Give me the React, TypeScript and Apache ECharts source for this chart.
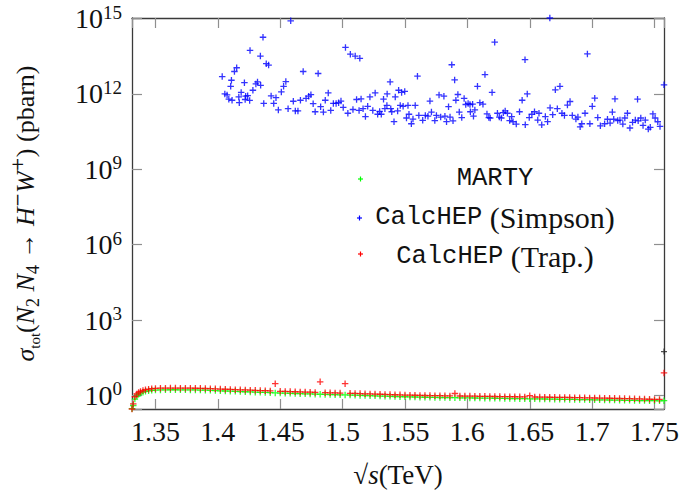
import React, { useEffect, useRef } from 'react';
import * as echarts from 'echarts';

// sqrt(s) in TeV, shared by the MARTY and CalcHEP (Trap.) scans
const energies = [
  1.3312, 1.3322, 1.3335, 1.3350, 1.3365, 1.3380, 1.3400, 1.3420, 1.3445, 1.3470, 1.3500,
  1.354, 1.358, 1.362, 1.366, 1.370, 1.374, 1.378, 1.382, 1.386, 1.390,
  1.394, 1.398, 1.402, 1.406, 1.410, 1.414, 1.418, 1.422, 1.426, 1.430,
  1.434, 1.438, 1.442, 1.446, 1.450, 1.454, 1.458, 1.462, 1.466, 1.470,
  1.474, 1.478, 1.482, 1.486, 1.490, 1.494, 1.498, 1.502, 1.506, 1.510,
  1.514, 1.518, 1.522, 1.526, 1.530, 1.534, 1.538, 1.542, 1.546, 1.550,
  1.554, 1.558, 1.562, 1.566, 1.570, 1.574, 1.578, 1.582, 1.586, 1.590,
  1.594, 1.598, 1.602, 1.606, 1.610, 1.614, 1.618, 1.622, 1.626, 1.630,
  1.634, 1.638, 1.642, 1.646, 1.650, 1.654, 1.658, 1.662, 1.666, 1.670,
  1.674, 1.678, 1.682, 1.686, 1.690, 1.694, 1.698, 1.702, 1.706, 1.710,
  1.714, 1.718, 1.722, 1.726, 1.730, 1.734, 1.738, 1.742, 1.746, 1.750,
  1.754, 1.7576,
];

// CalcHEP (Trap.) cross section, pbarn
const trapSigma = [
  0.29, 0.46, 0.89, 1.15, 1.32, 1.45, 1.58, 1.70, 1.78, 1.86, 1.91,
  1.95, 1.96, 1.97, 1.97, 1.96, 1.96, 1.95, 1.94, 1.92, 1.90,
  1.87, 1.84, 1.80, 1.77, 1.74, 1.71, 1.68, 1.66, 1.63, 1.60,
  1.57, 1.55, 1.52, 2.95, 1.47, 1.45, 1.43, 1.41, 1.39, 1.37,
  1.35, 1.33, 3.5, 1.30, 1.28, 1.27, 1.25, 2.95, 1.22, 1.21,
  1.19, 1.17, 1.15, 1.14, 1.12, 1.10, 1.09, 1.07, 1.06, 1.04,
  1.03, 1.02, 1.01, 1.00, 0.99, 0.985, 0.98, 0.97, 0.965, 1.2,
  0.955, 0.95, 0.945, 0.94, 0.93, 0.925, 0.92, 0.91, 0.905, 0.90,
  0.895, 0.89, 0.885, 0.88, 0.98, 0.87, 0.865, 0.86, 0.85, 0.845,
  0.84, 0.835, 0.83, 0.82, 0.815, 0.81, 0.80, 0.795, 0.79, 0.78,
  0.775, 0.77, 0.76, 0.755, 0.745, 0.74, 0.73, 0.72, 0.71, 0.70,
  0.695, 7.9,
];

// MARTY cross section, pbarn
const martySigma = [
  0.30, 0.40, 0.72, 0.95, 1.12, 1.24, 1.36, 1.46, 1.53, 1.60, 1.64,
  1.67, 1.68, 1.69, 1.69, 1.68, 1.68, 1.67, 1.66, 1.64, 1.62,
  1.60, 1.57, 1.54, 1.51, 1.48, 1.46, 1.43, 1.41, 1.39, 1.36,
  1.34, 1.32, 1.30, 1.27, 1.25, 1.24, 1.22, 1.20, 1.18, 1.17,
  1.15, 1.13, 1.12, 1.10, 1.09, 1.08, 1.06, 1.05, 1.04, 1.03,
  1.01, 1.00, 0.98, 0.97, 0.95, 0.94, 0.93, 0.91, 0.90, 0.89,
  0.88, 0.87, 0.86, 0.85, 0.845, 0.84, 0.83, 0.825, 0.82, 0.815,
  0.81, 0.805, 0.80, 0.795, 0.79, 0.785, 0.78, 0.775, 0.77, 0.765,
  0.76, 0.755, 0.75, 0.745, 0.74, 0.735, 0.73, 0.725, 0.72, 0.715,
  0.71, 0.705, 0.70, 0.695, 0.69, 0.685, 0.68, 0.675, 0.67, 0.665,
  0.66, 0.655, 0.65, 0.645, 0.64, 0.635, 0.63, 0.625, 0.62, 0.62,
  0.615, 0.62,
];

// CalcHEP (Simpson): [sqrt(s) TeV, sigma pbarn]
const simpsonPoints: [number, number][] = [
  [1.4035, 4.9e12], [1.4056, 1.0e12], [1.4074, 9.1e11], [1.4088, 6.2e11], [1.4103, 2.0e12],
  [1.4109, 3.5e12], [1.4114, 5.6e11], [1.4133, 7.8e12], [1.4151, 1.1e13], [1.4168, 7.6e11],
  [1.4172, 4.5e11], [1.4187, 1.15e12], [1.4213, 2.8e12], [1.4219, 6.0e11], [1.4223, 8.1e11],
  [1.4239, 8.5e11], [1.4255, 5.5e11], [1.4258, 5.4e13], [1.4281, 1.4e12], [1.4305, 2.5e12],
  [1.4318, 3.0e12], [1.4341, 3.2e13], [1.4343, 2.2e12], [1.4362, 1.8e14], [1.4368, 4.2e11],
  [1.4388, 1.6e13], [1.4407, 1.4e13], [1.4427, 8.3e11], [1.4448, 4.2e11], [1.4466, 7.1e11],
  [1.4485, 2.3e11], [1.4509, 1.2e12], [1.4527, 2.0e12], [1.4545, 3.1e12], [1.4563, 2.6e11],
  [1.4584, 8.1e14], [1.4605, 5.1e11], [1.4621, 2.1e11], [1.4642, 2.1e11], [1.4662, 5.6e11],
  [1.4684, 7.8e12], [1.4707, 6.6e11], [1.4728, 8.1e11], [1.4746, 9.3e11], [1.4764, 4.1e11],
  [1.4780, 1.95e11], [1.4804, 6.5e12], [1.4824, 3.1e11], [1.4846, 1.9e11], [1.4861, 5.6e11],
  [1.4885, 1.1e12], [1.4905, 2.2e11], [1.4926, 4.2e11], [1.4948, 4.2e11], [1.4968, 4.5e11],
  [1.4987, 5.2e11], [1.5005, 2.9e11], [1.5023, 7.1e13], [1.5042, 1.7e11], [1.5062, 3.8e13],
  [1.5083, 2.4e11], [1.5101, 3.2e13], [1.5112, 6.0e11], [1.5132, 2.2e11], [1.5138, 2.6e13],
  [1.5148, 6.3e11], [1.5164, 2.6e11], [1.5183, 1.26e11], [1.5201, 3.2e11], [1.5219, 7.6e11],
  [1.5242, 2.2e11], [1.5261, 1.1e12], [1.5281, 1.55e11], [1.5297, 2.0e11], [1.5310, 1.55e11],
  [1.5328, 6.2e11], [1.5339, 2.6e11], [1.5355, 3.5e11], [1.5357, 1.0e12], [1.5381, 3.0e12],
  [1.5386, 2.6e11], [1.5394, 1.95e11], [1.5412, 7.9e10], [1.5422, 7.6e11], [1.5441, 2.1e11],
  [1.5449, 1.4e12], [1.5462, 3.5e11], [1.5473, 1.15e12], [1.5485, 3.2e11], [1.5498, 1.26e12],
  [1.5512, 1.1e11], [1.5524, 3.5e11], [1.5532, 1.55e11], [1.5551, 6.5e10], [1.5564, 1.0e11],
  [1.5582, 3.5e11], [1.5600, 5.1e12], [1.5611, 1.4e11], [1.5642, 8.9e10], [1.5663, 1.4e11],
  [1.5684, 1.3e11], [1.5700, 5.2e11], [1.5712, 1.9e11], [1.5739, 8.7e10], [1.5752, 1.4e11],
  [1.5773, 9.1e11], [1.5786, 1.2e11], [1.5812, 8.1e11], [1.5820, 1.3e11], [1.5833, 7.9e10],
  [1.5849, 3.1e11], [1.5861, 1.2e11], [1.5875, 1.45e13], [1.5885, 8.5e10], [1.5898, 3.6e12],
  [1.5908, 5.6e11], [1.5924, 9.5e11], [1.5935, 1.9e11], [1.5955, 1.15e11], [1.5974, 6.6e11],
  [1.5987, 3.8e11], [1.6006, 4.2e11], [1.6021, 3.8e11], [1.6024, 1.95e11], [1.6042, 3.9e11],
  [1.6049, 1.3e11], [1.6060, 2.3e11], [1.6081, 2.0e12], [1.6100, 4.5e11], [1.6125, 3.9e11],
  [1.6141, 5.9e12], [1.6157, 1.6e11], [1.6172, 1.15e11], [1.6183, 1.1e11], [1.6198, 1.15e12],
  [1.6219, 1.15e14], [1.6241, 1.7e11], [1.6256, 1.2e11], [1.6272, 1.1e11], [1.6288, 1.8e11],
  [1.6303, 2.1e11], [1.6321, 1.7e11], [1.6339, 8.7e10], [1.6355, 1.26e11], [1.6366, 7.8e10],
  [1.6392, 6.3e10], [1.6418, 1.95e11], [1.6439, 5.6e11], [1.6462, 2.3e13], [1.6464, 6.0e10],
  [1.6480, 1.0e12], [1.6496, 1.15e11], [1.6517, 1.55e11], [1.6538, 1.95e11], [1.6564, 9.1e10],
  [1.6574, 1.7e11], [1.6596, 5.9e10], [1.6625, 1.26e11], [1.6643, 7.9e10], [1.6661, 1.05e15],
  [1.6663, 2.8e11], [1.6684, 1.5e11], [1.6705, 1.45e12], [1.6721, 2.6e11], [1.6742, 2.0e12],
  [1.6758, 1.7e11], [1.6778, 1.4e11], [1.6802, 3.6e11], [1.6823, 5.0e11], [1.6841, 1.4e11],
  [1.6870, 1.0e11], [1.6886, 1.2e11], [1.6904, 4.9e10], [1.6917, 6.5e10], [1.6943, 1.7e11],
  [1.6962, 3.9e13], [1.6982, 6.5e10], [1.7001, 3.2e11], [1.7021, 6.8e11], [1.7045, 1.15e11],
  [1.7066, 5.4e10], [1.7100, 6.5e10], [1.7123, 9.8e10], [1.7144, 6.9e10], [1.7162, 1.9e11],
  [1.7173, 9.8e10], [1.7183, 6.3e11], [1.7205, 8.7e10], [1.7223, 9.1e10], [1.7246, 6.3e10],
  [1.7262, 1.1e11], [1.7283, 1.7e11], [1.7303, 4.4e10], [1.7324, 7.4e10], [1.7346, 9.1e10],
  [1.7364, 6.2e11], [1.7369, 8.5e10], [1.7390, 1.1e11], [1.7408, 5.6e10], [1.7426, 9.1e10],
  [1.7450, 4.0e10], [1.7466, 4.7e10], [1.7487, 1.6e11], [1.7505, 1.1e11], [1.7526, 7.8e10],
  [1.7544, 5.1e10], [1.7576, 2.3e12],
];

// lone dark point at the right edge
const extraEnergy = [1.7576];
const extraSigma = [56];

const xTickStep = 0.05;
const yDecadeStep = 3;

const PLUS = 'path://M28,0h14v28h28v14h-28v28h-14v-28h-28v-14h28z';
const serif = '"Liberation Serif", "DejaVu Serif", serif';
const mono = '"Liberation Mono", "DejaVu Sans Mono", monospace';
const ink = '#111';

export default function App() {
  const ref = useRef<HTMLDivElement>(null);

  useEffect(() => {
    const chart = echarts.init(ref.current!, null, { renderer: 'svg' });
    const lg = (v: number) => Math.log10(v);

    const allX = [...energies, ...simpsonPoints.map((p) => p[0]), ...extraEnergy];
    const allY = [...trapSigma, ...martySigma, ...simpsonPoints.map((p) => p[1]), ...extraSigma].map(lg);
    const xMin = Math.min(...allX);
    const xMax = Math.max(...allX);
    const yMin = Math.min(...allY);
    const yMax = Math.max(...allY);

    const isMult = (v: number, s: number) => Math.abs(v / s - Math.round(v / s)) < 1e-6;

    const axisLine = { show: true, onZero: false, lineStyle: { color: '#3a3a3a', width: 1.3 } };
    const axisTick = { show: true, inside: true, length: 10, lineStyle: { color: '#8f8f8f', width: 1.2 } };

    const plusRects = (cx: number, cy: number, color: string) => [
      { type: 'rect', shape: { x: cx - 2.5, y: cy - 0.6, width: 5, height: 1.2 }, style: { fill: color }, silent: true },
      { type: 'rect', shape: { x: cx - 0.6, y: cy - 2.5, width: 1.2, height: 5 }, style: { fill: color }, silent: true },
    ];

    const legendText = (y: number, text: string) => ({
      type: 'text',
      x: 495,
      y,
      silent: true,
      style: {
        text,
        align: 'center',
        verticalAlign: 'middle',
        textAlign: 'center',
        textVerticalAlign: 'middle',
        fill: ink,
        rich: {
          t: { fontFamily: mono, fontSize: 25.5, fill: ink },
          r: { fontFamily: serif, fontSize: 30, fill: ink },
        },
      },
    });

    const option: any = {
      animation: false,
      grid: { left: 121, right: 20, top: 18, bottom: 78, containLabel: false },
      xAxis: [
        {
          type: 'value',
          min: xMin,
          max: xMax,
          splitNumber: 9,
          position: 'bottom',
          axisLine,
          axisTick,
          splitLine: { show: false },
          axisLabel: {
            color: ink,
            fontFamily: serif,
            fontSize: 28,
            margin: 8,
            formatter: (v: number) => (isMult(v, xTickStep) ? String(Math.round(v * 100) / 100) : ''),
          },
          name: '{r|√}{i|s}{r|(TeV)}',
          nameLocation: 'middle',
          nameGap: 52,
          nameTextStyle: {
            rich: {
              r: { fontFamily: serif, fontSize: 27, color: ink },
              i: { fontFamily: serif, fontSize: 27, fontStyle: 'italic', color: ink },
            },
          },
        },
        {
          type: 'value',
          min: xMin,
          max: xMax,
          splitNumber: 9,
          position: 'top',
          axisLine,
          axisTick,
          splitLine: { show: false },
          axisLabel: { show: false },
        },
      ],
      yAxis: [
        {
          type: 'value',
          min: yMin,
          max: yMax,
          splitNumber: 5,
          position: 'left',
          axisLine,
          axisTick,
          splitLine: { show: false },
          axisLabel: {
            margin: 10,
            formatter: (v: number) =>
              isMult(v, yDecadeStep) ? `{b|10}{s|${Math.round(v) === 0 ? 0 : Math.round(v)}}` : '',
            rich: {
              b: { fontFamily: serif, fontSize: 28, color: ink, lineHeight: 32 },
              s: { fontFamily: serif, fontSize: 19, color: ink, lineHeight: 19, verticalAlign: 'top' },
            },
          },
          name:
            '{i|σ}{sb|tot}{r|(}{i|N}{sn|2}{r| }{i|N}{sn|4}{r| → }{i|H}{sp|−}{i|W}{sp|+}{r|) (pbarn)}',
          nameLocation: 'middle',
          nameGap: 90,
          nameRotate: 90,
          nameTextStyle: {
            rich: {
              r: { fontFamily: serif, fontSize: 26, color: ink, lineHeight: 34 },
              i: { fontFamily: serif, fontSize: 26, fontStyle: 'italic', color: ink, lineHeight: 34 },
              sb: { fontFamily: serif, fontSize: 15, color: ink, lineHeight: 14, verticalAlign: 'bottom' },
              sn: { fontFamily: serif, fontSize: 18, color: ink, lineHeight: 16, verticalAlign: 'bottom' },
              sp: { fontFamily: '"DejaVu Serif", serif', fontSize: 17, color: ink, lineHeight: 17, verticalAlign: 'top' },
            },
          },
        },
        {
          type: 'value',
          min: yMin,
          max: yMax,
          splitNumber: 5,
          position: 'right',
          axisLine,
          axisTick,
          splitLine: { show: false },
          axisLabel: { show: false },
        },
      ],
      series: [
        {
          type: 'scatter',
          name: 'MARTY',
          clip: false,
          symbol: PLUS,
          symbolSize: 6.5,
          itemStyle: { color: '#00ff00' },
          data: energies.map((x, i) => [x, lg(martySigma[i])]),
          z: 2,
        },
        {
          type: 'scatter',
          name: 'CalcHEP (Simpson)',
          clip: false,
          symbol: PLUS,
          symbolSize: 6.5,
          itemStyle: { color: '#0000ff' },
          data: simpsonPoints.map(([x, y]) => [x, lg(y)]),
          z: 3,
        },
        {
          type: 'scatter',
          name: 'CalcHEP (Trap.)',
          clip: false,
          symbol: PLUS,
          symbolSize: 6.5,
          itemStyle: { color: '#ff0000' },
          data: energies.map((x, i) => [x, lg(trapSigma[i])]),
          z: 4,
        },
        {
          type: 'scatter',
          name: 'extra',
          clip: false,
          symbol: PLUS,
          symbolSize: 6,
          itemStyle: { color: '#222222' },
          data: extraEnergy.map((x, i) => [x, lg(extraSigma[i])]),
          z: 1,
        },
      ],
      graphic: [
        ...plusRects(360.5, 179, '#00ff00'),
        ...plusRects(359.5, 218, '#0000ff'),
        ...plusRects(360.5, 254, '#ff0000'),
        legendText(178, '{t|MARTY}'),
        legendText(217, '{t|CalcHEP}{r| (Simpson)}'),
        legendText(256, '{t|CalcHEP}{r| (Trap.)}'),
      ],
    };

    chart.setOption(option);
    return () => chart.dispose();
  }, []);

  return (
    <div
      ref={ref}
      style={{ position: 'fixed', left: 0, top: 0, width: 684, height: 493, background: '#fff' }}
    />
  );
}
